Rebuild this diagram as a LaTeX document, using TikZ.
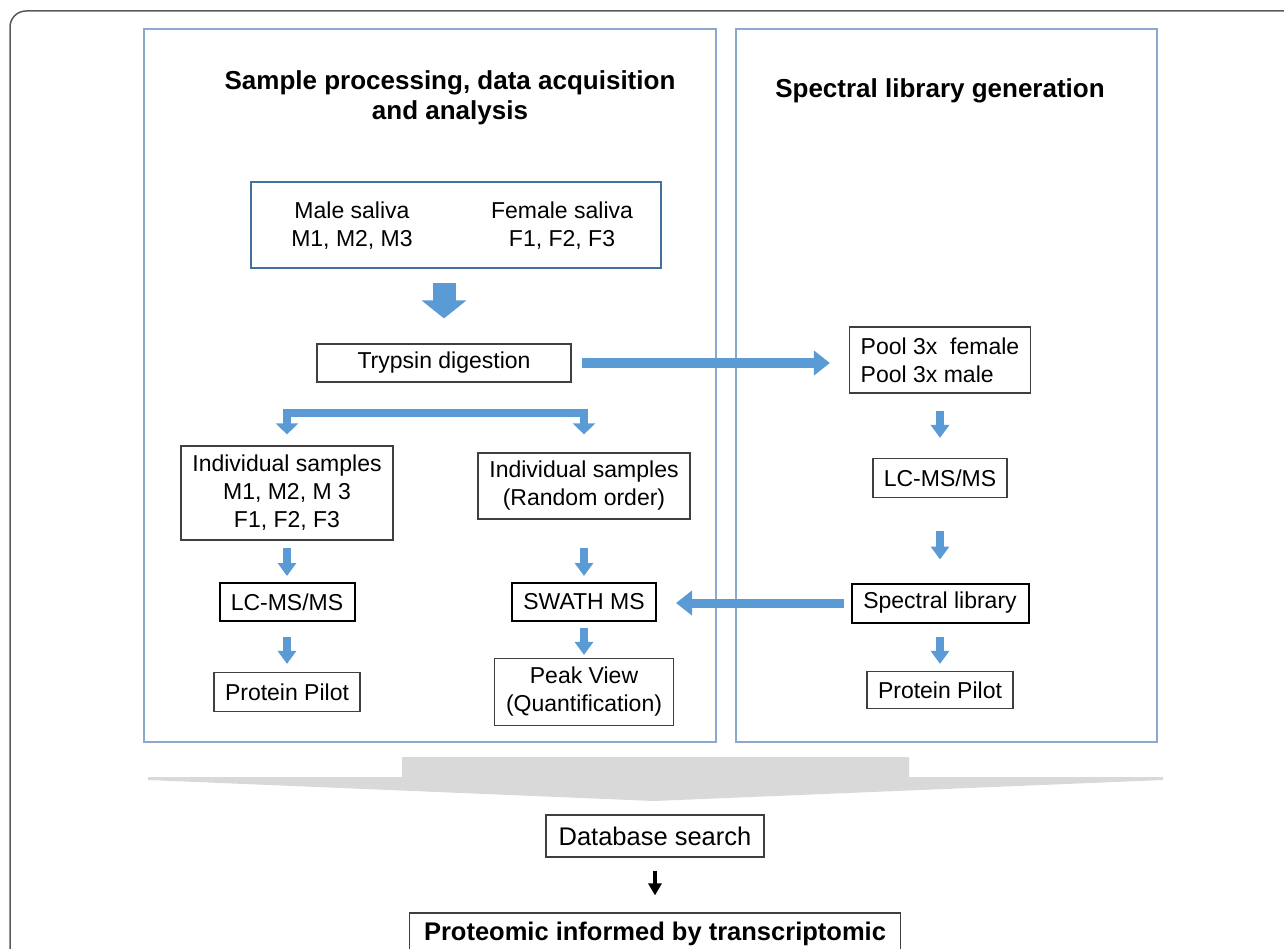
\documentclass[tikz,border=0pt]{standalone}
\usepackage{fontspec}
\setmainfont{Liberation Sans}
\usetikzlibrary{arrows.meta,calc}

\definecolor{flowblue}{HTML}{5B9BD5}
\definecolor{panelblue}{HTML}{8BA9CF}
\definecolor{sampleblue}{HTML}{41719C}
\definecolor{boxgray}{HTML}{3F3F3F}
\definecolor{wedgegray}{HTML}{D9D9D9}
\definecolor{framegray}{HTML}{5A5A5A}

\begin{document}
\begin{tikzpicture}[x=1pt, y=-1pt,
	box/.style={draw=boxgray, line width=1.2pt, fill=white, inner sep=0pt, align=center, font=\fontsize{23}{28}\selectfont},
	boldbox/.style={box, draw=black, line width=2pt},
	title/.style={align=center, inner sep=0pt, font=\fontsize{26}{29.5}\selectfont\bfseries},
	panel/.style={draw=panelblue, line width=1.5pt},
	flow/.style={draw=flowblue, line width=8pt, -{Triangle[width=18pt,length=13pt]}},
	bigflow/.style={draw=flowblue, line width=23pt, -{Triangle[width=44pt,length=18pt]}},
	sideflow/.style={draw=flowblue, line width=10pt, -{Triangle[width=24pt,length=16pt]}},
	splitflow/.style={draw=flowblue, line width=8pt, {Triangle[width=22pt,length=11pt]}-{Triangle[width=22pt,length=11pt]}},
	blackflow/.style={draw=black, line width=4pt, -{Triangle[width=13pt,length=12pt]}}]

	\useasboundingbox (0,0) rectangle (1284,949);
	\clip (0,0) rectangle (1284,949);

	%frame and panels
	\draw[framegray, line width=1.5pt, rounded corners=16pt] (10,980) -- (10,11) -- (1320,11);
	\draw[panel] (144,29) rectangle (716,742);
	\draw[panel] (736,29) rectangle (1157,742);

	%titles
	\node[title] (lefttitle) at (450,98) {Sample processing, data acquisition\\and analysis};
	\node[title] (righttitle) at (940,91) {Spectral library generation};

	%left panel
	\node[box, draw=sampleblue, line width=2.5pt, minimum width=410, minimum height=86] (samples) at (456,225) {};
	\node[align=center, inner sep=0pt, font=\fontsize{23}{28}\selectfont] (male) at (352,226) {Male saliva\\M1, M2, M3};
	\node[align=center, inner sep=0pt, font=\fontsize{23}{28}\selectfont] (female) at (562,226) {Female saliva\\F1, F2, F3};
	\node[box, minimum width=254, minimum height=38] (trypsin) at (444,363) {Trypsin digestion};
	\coordinate (split) at (444,413);
	\node[box, minimum width=212, minimum height=94] (indiv1) at (287,493) {Individual samples\\M1, M2, M 3\\F1, F2, F3};
	\node[boldbox, minimum width=135, minimum height=38] (lc1) at (287,602) {LC-MS/MS};
	\node[box, minimum width=146, minimum height=39] (pilot1) at (287,692) {Protein Pilot};
	\node[box, minimum width=212, minimum height=66] (indiv2) at (584,486) {Individual samples\\(Random order)};
	\node[boldbox, minimum width=144, minimum height=38] (swath) at (584,602) {SWATH MS};
	\node[box, minimum width=179, minimum height=67] (peak) at (584,692) {Peak View\\(Quantification)};

	%right panel
	\node[box, align=left, minimum width=181, minimum height=66] (pool) at (940,360) {Pool 3x\ \ female\\Pool 3x male};
	\node[box, minimum width=134, minimum height=39] (lc2) at (940,478) {LC-MS/MS};
	\node[boldbox, minimum width=177, minimum height=39] (spectral) at (940,603) {Spectral library};
	\node[box, minimum width=146, minimum height=37] (pilot2) at (940,690) {Protein Pilot};

	%bottom
	\node[box, font=\fontsize{25.5}{30}\selectfont, minimum width=218, minimum height=42] (database) at (655,836) {Database search};
	\node[box, font=\fontsize{25.5}{30}\selectfont\bfseries, minimum width=491, minimum height=42] (proteomic) at (655,934) {Proteomic informed by transcriptomic};

	%arrows
	\draw[bigflow, shorten <=14pt, shorten >=25pt] (samples.south -| trypsin.north) -- (trypsin.north);
	\draw[sideflow, shorten <=10pt, shorten >=19pt] (trypsin.east) -- (trypsin.east -| pool.west);
	\draw[splitflow] ($(indiv1.north)+(0,-11)$) |- (split) -| ($(indiv2.north)+(0,-18)$);
	\draw[flow, shorten <=7pt, shorten >=6pt] (indiv1) -- (lc1);
	\draw[flow, shorten <=15pt, shorten >=8pt] (lc1) -- (pilot1);
	\draw[flow, shorten <=28pt, shorten >=6pt] (indiv2) -- (swath);
	\draw[flow, shorten <=6pt, shorten >=3pt] (swath) -- (peak);
	\draw[flow, shorten <=17pt, shorten >=20pt] (pool) -- (lc2);
	\draw[flow, shorten <=33pt, shorten >=23pt] (lc2) -- (spectral);
	\draw[flow, shorten <=13pt, shorten >=7pt] (spectral) -- (pilot2);
	\draw[sideflow, line width=9pt, shorten <=7pt, shorten >=19pt] (spectral.west) -- (spectral.west -| swath.east);

	%merge wedge
	\fill[wedgegray] (402,757) -- (909,757) -- (909,777) -- (1163,777) -- (1163,780) -- (654,801) -- (148,780) -- (148,777) -- (402,777) -- cycle;
	\draw[blackflow, shorten <=13pt, shorten >=17pt] (database) -- (proteomic);
\end{tikzpicture}
\end{document}
